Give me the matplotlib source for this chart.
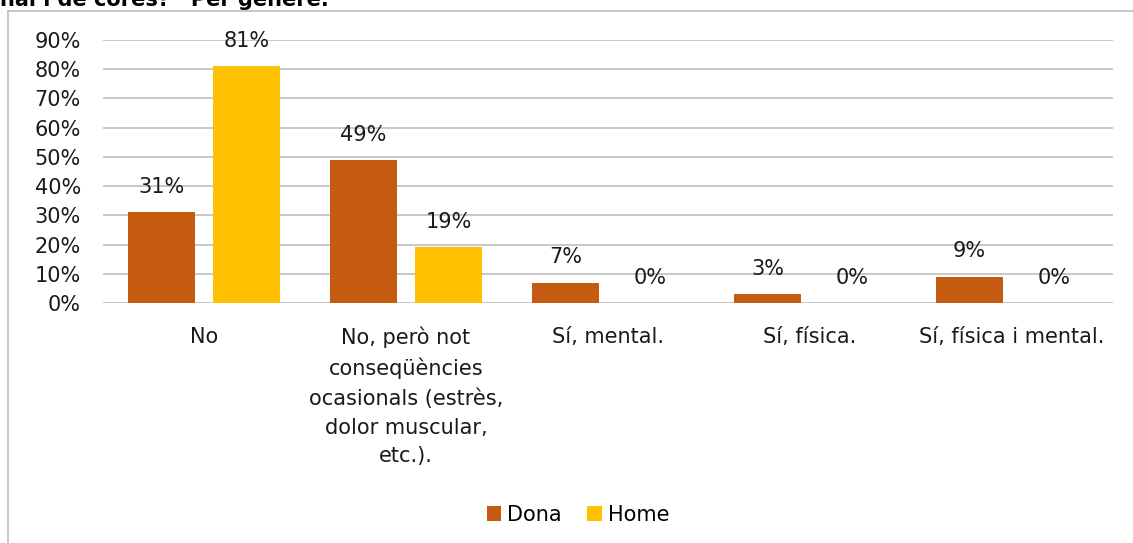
import numpy as np
import matplotlib
matplotlib.use("Agg")
import matplotlib.pyplot as plt
from matplotlib.lines import Line2D

categories = ["No",
              "No, però not\nconseqüències\nocasionals (estrès,\ndolor muscular,\netc.).",
              "Sí, mental.",
              "Sí, física.",
              "Sí, física i mental."]
dona = [31, 49, 7, 3, 9]
home = [81, 19, 0, 0, 0]
series_names = ["Dona", "Home"]
yticks = [0, 10, 20, 30, 40, 50, 60, 70, 80, 90]

c_dona = "#C55A11"
c_home = "#FFC000"

plt.rcParams['font.family'] = ['DejaVu Sans']

fig = plt.figure(figsize=(11.33, 5.43), dpi=100)
ax = fig.add_axes([103/1133, 1 - 303/543, (1113 - 103)/1133, (303 - 40)/543])

x = np.arange(len(categories))
w = 0.33
off = 0.21
b1 = ax.bar(x - off, dona, w, color=c_dona, label=series_names[0], zorder=3)
b2 = ax.bar(x + off, home, w, color=c_home, label=series_names[1], zorder=3)

for bars, vals in ((b1, dona), (b2, home)):
    for r, v in zip(bars, vals):
        ax.annotate(f"{v}%", (r.get_x() + r.get_width()/2, v),
                    xytext=(0, 11), textcoords="offset points",
                    ha="center", va="bottom", fontsize=15, color="#1a1a1a")

ax.set_ylim(0, 90)
ax.set_xlim(-0.5, len(categories) - 0.5)
ax.set_yticks(yticks)
ax.set_yticklabels([f"{t}%" for t in yticks], fontsize=15)
ax.set_xticks(x)
ax.set_xticklabels(categories, fontsize=15, linespacing=1.55, va="top")
ax.tick_params(axis="both", length=0, colors="#1a1a1a")
ax.tick_params(axis="y", pad=16)
ax.tick_params(axis="x", pad=17)
ax.yaxis.grid(True, color="#BFBFBF", linewidth=1.2, zorder=0)
for s in ax.spines.values():
    s.set_visible(False)

fig.legend(handles=[b1, b2], labels=series_names, loc="center",
           bbox_to_anchor=(578/1133, 1 - 515/543), ncol=2, frameon=False,
           fontsize=15, handlelength=0.7, handleheight=0.7,
           handletextpad=0.3, columnspacing=1.2)

# outer chart border (cut off by the crop)
fig.add_artist(Line2D([8/1133, 8/1133], [0, 1 - 11/543], color="#BFBFBF", lw=1.2))
fig.add_artist(Line2D([8/1133, 1], [1 - 11/543, 1 - 11/543], color="#BFBFBF", lw=1.2))

# clipped title above
fig.text(0.0, 1 - 6/543, "nal i de cores?\u201d Per gènere.", fontsize=15,
         fontweight="bold", ha="left", va="baseline")

fig.savefig("out.png", dpi=100)
